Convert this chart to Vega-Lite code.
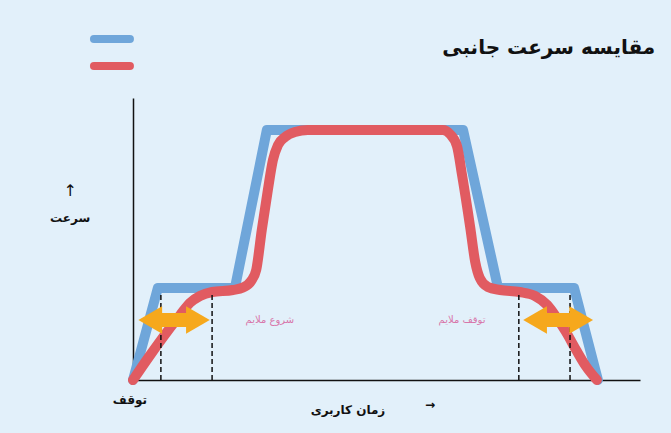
{
  "$schema": "https://vega.github.io/schema/vega-lite/v6.json",
  "width": 507,
  "height": 282,
  "autosize": {"type": "none"},
  "padding": {"left": 133, "top": 98, "right": 31, "bottom": 53},
  "background": "#e2f0fa",
  "config": {"view": {"stroke": null}, "font": "DejaVu Sans"},
  "datasets": {
    "blue": [
      {"t": 0, "v": 0}, {"t": 4.9, "v": 36.8}, {"t": 20.1, "v": 36.8}, {"t": 26.4, "v": 100},
      {"t": 65.1, "v": 100}, {"t": 72.0, "v": 36.8}, {"t": 87.0, "v": 36.8}, {"t": 91.7, "v": 0}
    ],
    "red": [
      {"t": 0, "v": 0}, {"t": 3.4, "v": 10}, {"t": 6.7, "v": 19.2}, {"t": 9.3, "v": 26},
      {"t": 11.2, "v": 30.8}, {"t": 13.2, "v": 33.6}, {"t": 15.6, "v": 35.2}, {"t": 19.7, "v": 36.0},
      {"t": 21.7, "v": 37.0}, {"t": 23.3, "v": 39.6}, {"t": 24.3, "v": 44}, {"t": 25.4, "v": 60},
      {"t": 26.6, "v": 76}, {"t": 27.6, "v": 88}, {"t": 28.6, "v": 94}, {"t": 30.0, "v": 97.2},
      {"t": 31.95, "v": 99.2}, {"t": 34.5, "v": 100}, {"t": 61.1, "v": 100}, {"t": 62.5, "v": 98.4},
      {"t": 63.9, "v": 93.6}, {"t": 64.9, "v": 82}, {"t": 66.5, "v": 61.2}, {"t": 67.5, "v": 47.2},
      {"t": 68.4, "v": 40.8}, {"t": 70.0, "v": 37.2}, {"t": 72.4, "v": 36.0}, {"t": 76.3, "v": 35.2},
      {"t": 79.3, "v": 33.6}, {"t": 81.7, "v": 30}, {"t": 83.6, "v": 24.8}, {"t": 85.4, "v": 19.2},
      {"t": 87.4, "v": 12}, {"t": 89.3, "v": 5.6}, {"t": 91.5, "v": 0}
    ],
    "dashes": [
      {"t": 5.5, "v": 0, "v2": 34.8}, {"t": 15.6, "v": 0, "v2": 34.8},
      {"t": 76.1, "v": 0, "v2": 34.8}, {"t": 86.2, "v": 0, "v2": 34.8}
    ],
    "shafts": [
      {"t1": 3.6, "t2": 12.6, "v": 24}, {"t1": 79.5, "t2": 88.2, "v": 24}
    ],
    "heads": [
      {"t": 3.4, "v": 24, "dir": "left"}, {"t": 12.8, "v": 24, "dir": "right"},
      {"t": 79.3, "v": 24, "dir": "left"}, {"t": 88.4, "v": 24, "dir": "right"}
    ],
    "legend": [
      {"series": "blue", "t1": -7.7, "t2": -0.6, "v": 136.4},
      {"series": "red", "t1": -7.7, "t2": -0.6, "v": 125.6}
    ],
    "notes": [
      {"t": 27.0, "v": 24, "text": "شروع ملایم"},
      {"t": 64.9, "v": 24, "text": "توقف ملایم"}
    ],
    "arrowsigns": [
      {"t": -12.4, "v": 75.5, "text": "↑"}
    ],
    "labels": [
      {"t": -12.4, "v": 65, "text": "سرعت"},
      {"t": -0.6, "v": -8, "text": "توقف"},
      {"t": 42.4, "v": -12, "text": "زمان کاربری"},
      {"t": 58.6, "v": -10, "text": "→"}
    ],
    "title": [
      {"t": 103.0, "v": 132.8, "text": "مقایسه سرعت جانبی"}
    ]
  },
  "layer": [
    {
      "data": {"name": "blue"},
      "mark": {"type": "line", "color": "#6fa6da", "strokeWidth": 10, "strokeCap": "round", "strokeJoin": "round"},
      "encoding": {
        "x": {"field": "t", "type": "quantitative", "scale": {"domain": [0, 100], "nice": false, "zero": false},
              "axis": {"domain": true, "domainColor": "#111", "domainWidth": 1.5, "ticks": false, "labels": false, "grid": false, "title": null}},
        "y": {"field": "v", "type": "quantitative", "scale": {"domain": [0, 112.8], "nice": false, "zero": false},
              "axis": {"domain": true, "domainColor": "#111", "domainWidth": 1.5, "ticks": false, "labels": false, "grid": false, "title": null}}
      }
    },
    {
      "data": {"name": "red"},
      "mark": {"type": "line", "color": "#e15b61", "strokeWidth": 10, "strokeCap": "round", "strokeJoin": "round", "interpolate": "monotone"},
      "encoding": {
        "x": {"field": "t", "type": "quantitative"},
        "y": {"field": "v", "type": "quantitative"}
      }
    },
    {
      "data": {"name": "dashes"},
      "mark": {"type": "rule", "color": "#111", "strokeWidth": 1.5, "strokeDash": [5, 3]},
      "encoding": {
        "x": {"field": "t", "type": "quantitative"},
        "y": {"field": "v", "type": "quantitative"},
        "y2": {"field": "v2"}
      }
    },
    {
      "data": {"name": "shafts"},
      "mark": {"type": "rule", "color": "#f6a81c", "strokeWidth": 14},
      "encoding": {
        "x": {"field": "t1", "type": "quantitative"},
        "x2": {"field": "t2"},
        "y": {"field": "v", "type": "quantitative"}
      }
    },
    {
      "data": {"name": "heads"},
      "mark": {"type": "point", "filled": true, "color": "#f6a81c", "opacity": 1, "size": 750},
      "encoding": {
        "x": {"field": "t", "type": "quantitative"},
        "y": {"field": "v", "type": "quantitative"},
        "shape": {"field": "dir", "type": "nominal", "scale": {"domain": ["left", "right"], "range": ["triangle-left", "triangle-right"]}, "legend": null}
      }
    },
    {
      "data": {"name": "legend"},
      "mark": {"type": "rule", "strokeWidth": 8, "strokeCap": "round"},
      "encoding": {
        "x": {"field": "t1", "type": "quantitative"},
        "x2": {"field": "t2"},
        "y": {"field": "v", "type": "quantitative"},
        "color": {"field": "series", "type": "nominal", "scale": {"domain": ["blue", "red"], "range": ["#6fa6da", "#e15b61"]}, "legend": null}
      }
    },
    {
      "data": {"name": "notes"},
      "mark": {"type": "text", "color": "#d877aa", "fontSize": 10, "align": "center", "baseline": "middle"},
      "encoding": {
        "x": {"field": "t", "type": "quantitative"},
        "y": {"field": "v", "type": "quantitative"},
        "text": {"field": "text"}
      }
    },
    {
      "data": {"name": "arrowsigns"},
      "mark": {"type": "text", "color": "#111", "fontSize": 16, "align": "center", "baseline": "middle"},
      "encoding": {
        "x": {"field": "t", "type": "quantitative"},
        "y": {"field": "v", "type": "quantitative"},
        "text": {"field": "text"}
      }
    },
    {
      "data": {"name": "labels"},
      "mark": {"type": "text", "color": "#111", "fontSize": 12, "fontWeight": "bold", "align": "center", "baseline": "middle"},
      "encoding": {
        "x": {"field": "t", "type": "quantitative"},
        "y": {"field": "v", "type": "quantitative"},
        "text": {"field": "text"}
      }
    },
    {
      "data": {"name": "title"},
      "mark": {"type": "text", "color": "#111", "fontSize": 20, "fontWeight": "bold", "align": "right", "baseline": "middle"},
      "encoding": {
        "x": {"field": "t", "type": "quantitative"},
        "y": {"field": "v", "type": "quantitative"},
        "text": {"field": "text"}
      }
    }
  ]
}
